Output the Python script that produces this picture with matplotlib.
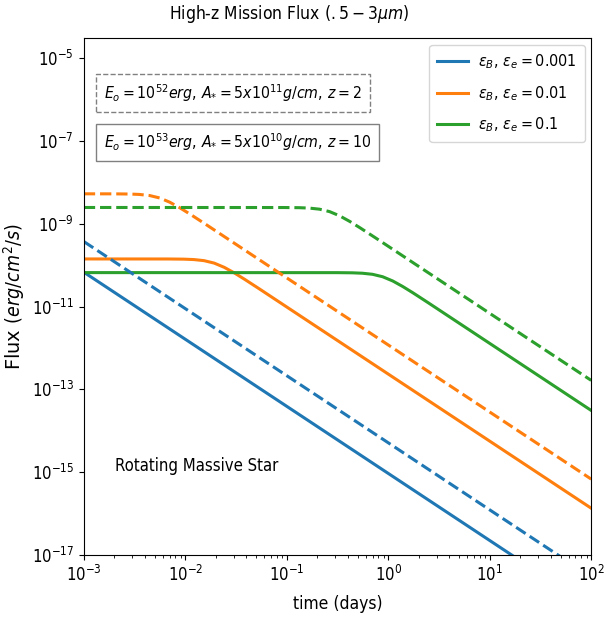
import matplotlib
matplotlib.use("Agg")
import numpy as np
import matplotlib.pyplot as plt
from matplotlib.ticker import NullLocator

plt.rcParams["font.family"] = "DejaVu Sans"
plt.rcParams["font.stretch"] = "condensed"
plt.rcParams["mathtext.fontset"] = "custom"
plt.rcParams["mathtext.rm"] = "DejaVu Sans:stretch=condensed"
plt.rcParams["mathtext.it"] = "DejaVu Sans:style=italic:stretch=condensed"
plt.rcParams["mathtext.bf"] = "DejaVu Sans:weight=bold:stretch=condensed"

# curves, as log10(time / days) and log10(flux / erg cm^-2 s^-1)
logt_blue = [-3, 2]
logf_blue_solid = [-10.17, -18.27]
logf_blue_dash = [-9.43, -17.53]

logt_orange_solid = [-3, -2.166, -2.016, -1.916, -1.816, -1.716, -1.616, -1.516, -1.416, -1.266, 2]
logf_orange_solid = [-9.85, -9.851, -9.855, -9.865, -9.891, -9.950, -10.053, -10.189, -10.341, -10.580, -15.870]

logt_orange_dash = [-3, -2.703, -2.553, -2.453, -2.353, -2.253, -2.153, -2.053, -1.953, -1.803, 2]
logf_orange_dash = [-8.277, -8.278, -8.282, -8.292, -8.318, -8.377, -8.480, -8.616, -8.768, -9.007, -15.167]

logt_green_solid = [-3, -0.505, -0.355, -0.255, -0.155, -0.055, 0.045, 0.145, 0.245, 0.395, 2]
logf_green_solid = [-10.18, -10.181, -10.185, -10.195, -10.221, -10.280, -10.383, -10.519, -10.671, -10.910, -13.509]

logt_green_dash = [-3, -1.028, -0.878, -0.778, -0.678, -0.578, -0.478, -0.378, -0.278, -0.128, 2]
logf_green_dash = [-8.607, -8.608, -8.612, -8.622, -8.648, -8.707, -8.810, -8.946, -9.098, -9.337, -12.783]

labels = [r"$\varepsilon_B,\,\varepsilon_e = 0.001$",
          r"$\varepsilon_B,\,\varepsilon_e = 0.01$",
          r"$\varepsilon_B,\,\varepsilon_e = 0.1$"]


def p(v):
    return 10.0 ** np.asarray(v)


fig = plt.figure(figsize=(6.12, 6.17), dpi=100)
ax = fig.add_axes([0.137, 0.1005, 0.829, 0.8375])

lw = 2.2
ax.plot(p(logt_blue), p(logf_blue_solid), color="C0", lw=lw, label=labels[0])
ax.plot(p(logt_orange_solid), p(logf_orange_solid), color="C1", lw=lw, label=labels[1])
ax.plot(p(logt_green_solid), p(logf_green_solid), color="C2", lw=lw, label=labels[2])
ax.plot(p(logt_blue), p(logf_blue_dash), color="C0", lw=lw, ls="--")
ax.plot(p(logt_orange_dash), p(logf_orange_dash), color="C1", lw=lw, ls="--")
ax.plot(p(logt_green_dash), p(logf_green_dash), color="C2", lw=lw, ls="--")

ax.set_xscale("log")
ax.set_yscale("log")
ax.set_xlim(1e-3, 1e2)
ax.set_ylim(1e-17, 10 ** -4.52)
ax.set_yticks([1e-17, 1e-15, 1e-13, 1e-11, 1e-9, 1e-7, 1e-5])
ax.yaxis.set_minor_locator(NullLocator())
ax.tick_params(labelsize=12)

ax.set_title(r"High-z Mission Flux $(.5 - 3\mu m)$", fontsize=12.5, x=0.404, pad=14)
ax.set_xlabel("time (days)", fontsize=12.5, labelpad=7)
ax.set_ylabel(r"Flux $(erg/cm^2/s)$", fontsize=14, fontstretch="normal",
              math_fontfamily="dejavusans")
ax.yaxis.set_label_coords(-0.113, 0.5)

ax.legend(loc="upper right", fontsize=11.5, labelspacing=0.8, borderpad=0.5,
          borderaxespad=0.4, handlelength=1.9, handletextpad=0.65)

ax.text(0.04, 0.894, r"$E_o = 10^{52}erg,\,A_{*} = 5x10^{11}g/cm,\,z = 2$",
        transform=ax.transAxes, fontsize=11.3, va="center", ha="left",
        bbox=dict(boxstyle="square,pad=0.5", fc="white", ec="gray", ls="--"))
ax.text(0.04, 0.798, r"$E_o = 10^{53}erg,\,A_{*} = 5x10^{10}g/cm,\,z = 10$",
        transform=ax.transAxes, fontsize=11.3, va="center", ha="left",
        bbox=dict(boxstyle="square,pad=0.5", fc="white", ec="gray"))
ax.text(0.061, 0.172, "Rotating Massive Star", transform=ax.transAxes,
        fontsize=12, va="center", ha="left")

fig.savefig("out.png", dpi=100)
